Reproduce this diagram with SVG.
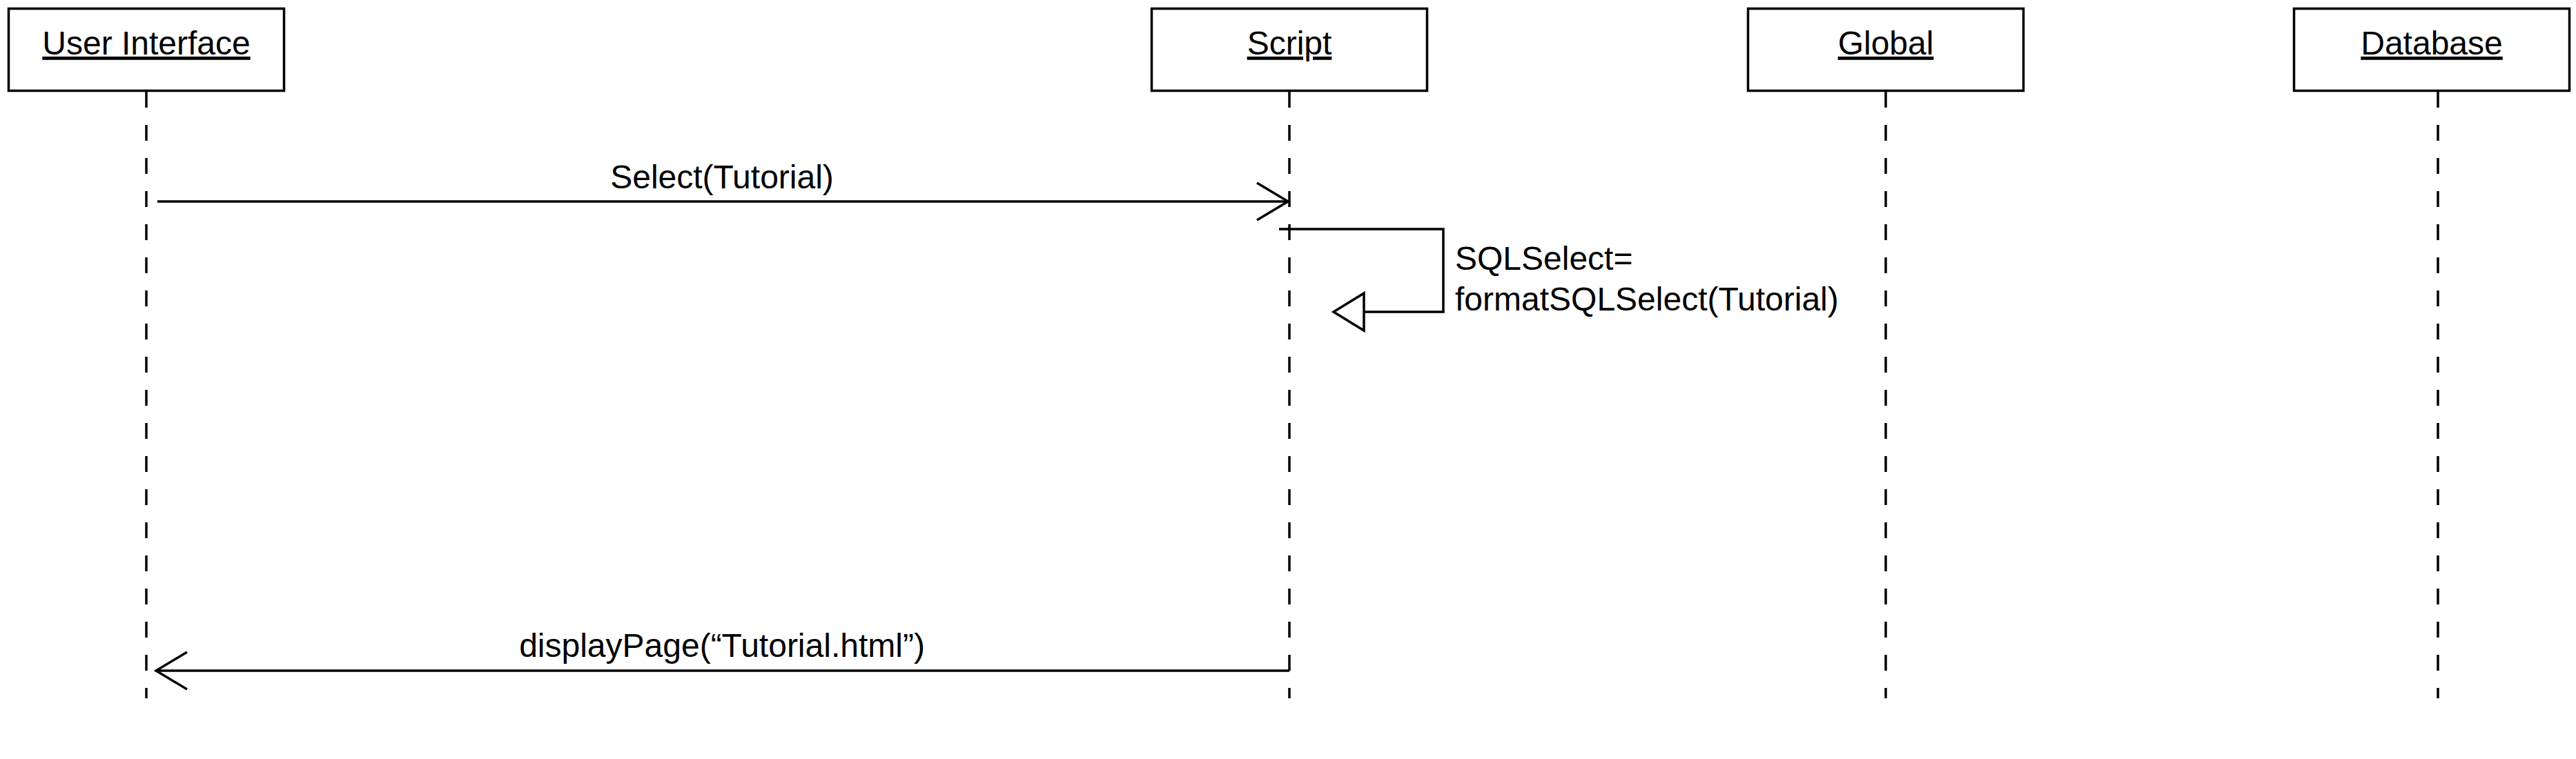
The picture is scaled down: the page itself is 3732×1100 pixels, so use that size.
<svg xmlns="http://www.w3.org/2000/svg" width="3732" height="1100" viewBox="0 0 3732 1100">
<style>
  .box { fill: #ffffff; stroke: #000000; stroke-width: 3.5; }
  .title { font-family: "Liberation Sans", Arial, sans-serif; font-size: 48px; fill: #000000; text-anchor: middle; text-decoration: underline; }
  .life { stroke: #000000; stroke-width: 3.5; stroke-dasharray: 23 25; fill: none; }
  .msg { stroke: #000000; stroke-width: 3.5; fill: none; }
  .head { stroke: #000000; stroke-width: 3.5; fill: none; stroke-linejoin: miter; }
  .tri { stroke: #000000; stroke-width: 3.5; fill: #ffffff; }
  .lbl { font-family: "Liberation Sans", Arial, sans-serif; font-size: 48px; fill: #000000; }
</style>
<rect x="0" y="0" width="3732" height="1100" fill="#ffffff"/>
<g id="node-user-interface">
  <rect class="box" x="12.5" y="12.5" width="399" height="119"/>
  <text class="title" x="212" y="79">User Interface</text>
  <line class="life" x1="212" y1="133" x2="212" y2="1012"/>
</g>
<g id="node-script">
  <rect class="box" x="1668.5" y="12.5" width="399" height="119"/>
  <text class="title" x="1868" y="79">Script</text>
  <line class="life" x1="1868" y1="133" x2="1868" y2="1012"/>
</g>
<g id="node-global">
  <rect class="box" x="2532.5" y="12.5" width="399" height="119"/>
  <text class="title" x="2732" y="79">Global</text>
  <line class="life" x1="2732" y1="133" x2="2732" y2="1012"/>
</g>
<g id="node-database">
  <rect class="box" x="3323.5" y="12.5" width="399" height="119"/>
  <text class="title" x="3523" y="79">Database</text>
  <line class="life" x1="3532" y1="133" x2="3532" y2="1012"/>
</g>
<g id="connectors">
  <g id="msg-select">
    <line class="msg" x1="228" y1="292" x2="1866" y2="292"/>
    <polyline class="head" points="1821,265 1866,292 1821,319"/>
    <text class="lbl" x="1046" y="273" text-anchor="middle">Select(Tutorial)</text>
  </g>
  <g id="msg-self">
    <polyline class="msg" points="1853,332 2091,332 2091,452 1976,452"/>
    <polygon class="tri" points="1932,452 1976,425 1976,479"/>
    <text class="lbl" x="2108" y="391">SQLSelect=</text>
    <text class="lbl" x="2108" y="450">formatSQLSelect(Tutorial)</text>
  </g>
  <g id="msg-display">
    <line class="msg" x1="1868" y1="972" x2="226" y2="972"/>
    <polyline class="head" points="271,945 226,972 271,999"/>
    <text class="lbl" x="1046" y="952" text-anchor="middle">displayPage(“Tutorial.html”)</text>
  </g>
</g>
</svg>
